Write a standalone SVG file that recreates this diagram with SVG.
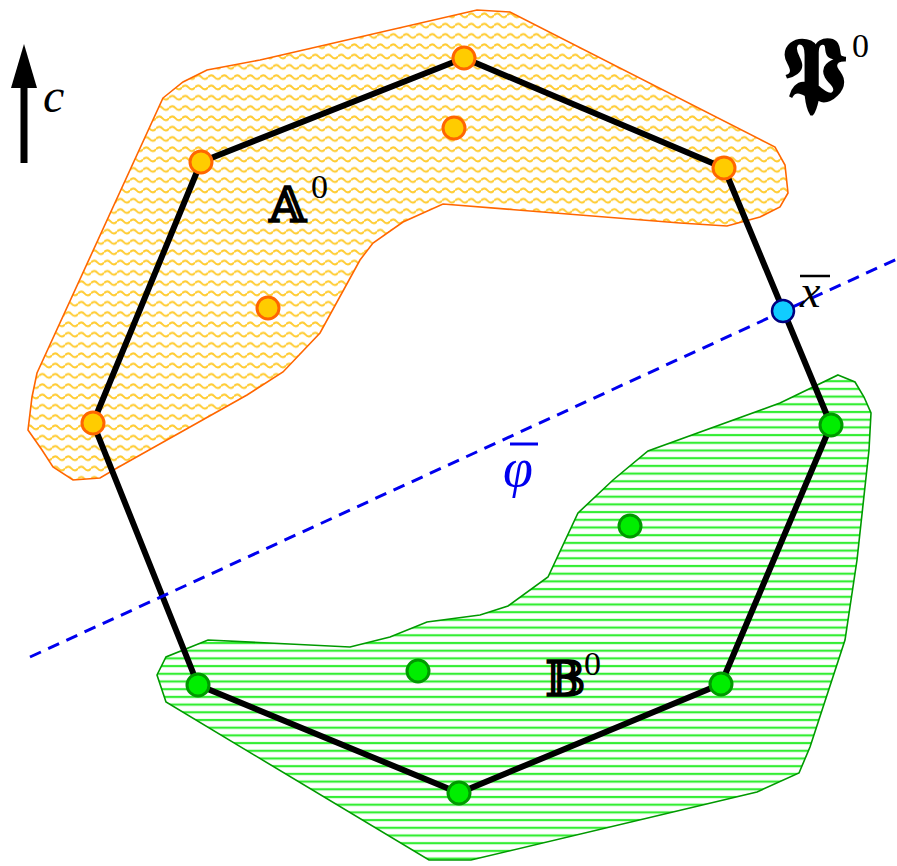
<svg xmlns="http://www.w3.org/2000/svg" width="897" height="866" viewBox="0 0 897 866">
<style>
.edge{fill:none;stroke:#000;stroke-width:6;stroke-linejoin:round}
.pa{fill:#ffcc00;stroke:#ff6600;stroke-width:3}
.pb{fill:#00ee00;stroke:#009900;stroke-width:3}
.px{fill:#11ccff;stroke:#000080;stroke-width:2.5}
.lab{font-family:"DejaVu Serif","Liberation Serif",serif;fill:#000}
.sup{font-family:"Liberation Serif",serif;fill:#000}
.it{font-family:"Liberation Serif",serif;font-style:italic}
</style>
<defs>
<pattern id="wave" patternUnits="userSpaceOnUse" width="13" height="10.3">
<rect width="13" height="10.3" fill="#fff"/>
<path d="M0 5 Q3.25 1.2 6.5 5 T13 5" fill="none" stroke="#ffcc33" stroke-width="2"/>
</pattern>
<pattern id="hlines" patternUnits="userSpaceOnUse" width="10" height="7.7">
<rect width="10" height="7.7" fill="#fff"/>
<rect y="2.8" width="10" height="2.2" fill="#33ee33"/>
</pattern>
</defs>
<g id="regionA">
<path d="M163 98 L183 82 L207 70 L260 60 L477 10 L510 12 L775 147 L785 165 L788 193 L780 207 L760 217 L727 226 L680 223 L443 204 L403 222 L373 243 L360 260 L320 333 L283 372 L247 395 L117 468 L100 478 L73 480 L53 467 L42 450 L28 430 L32 397 L37 373 Z" fill="url(#wave)" stroke="#ff6600" stroke-width="1.6"/>
</g>
<g id="regionB">
<path d="M838 375 L855 382 L864 397 L871 413 L869 450 L857 560 L845 640 L810 747 L799 773 L757 792 L471 860 L429 860 L166 702 L157 675 L166 657 L208 640 L350 647 L390 637 L427 622 L480 615 L508 606 L548 577 L578 513 L613 480 L648 451 L780 403 Z" fill="url(#hlines)" stroke="#009900" stroke-width="1.6"/>
</g>
<g id="connectors">
<polygon class="edge" points="464,58 724,168 831,425 721,684 459,793 198,685 93,423 201,162"/>
<line x1="30" y1="657" x2="897" y2="259" stroke="#0000ee" stroke-width="3" stroke-dasharray="12 8"/>
<line x1="24" y1="163" x2="24" y2="87" stroke="#000" stroke-width="7"/>
<path d="M11 88 L24 44 L37 88 Z" fill="#000"/>
</g>
<g id="pointsA">
<circle class="pa" cx="464" cy="58" r="11"/>
<circle class="pa" cx="724" cy="168" r="11"/>
<circle class="pa" cx="201" cy="162" r="11"/>
<circle class="pa" cx="93" cy="423" r="11"/>
<circle class="pa" cx="454" cy="128" r="11"/>
<circle class="pa" cx="268" cy="308" r="11"/>
</g>
<g id="pointsB">
<circle class="pb" cx="831" cy="425" r="11"/>
<circle class="pb" cx="721" cy="684" r="11"/>
<circle class="pb" cx="459" cy="793" r="11"/>
<circle class="pb" cx="198" cy="685" r="11"/>
<circle class="pb" cx="630" cy="526" r="11"/>
<circle class="pb" cx="418" cy="671" r="11"/>
</g>
<g id="xbar">
<circle class="px" cx="783" cy="311" r="11"/>
<text class="it" x="800" y="307" font-size="46">x</text>
<line x1="800" y1="276" x2="830" y2="276" stroke="#000" stroke-width="2.5"/>
</g>
<g id="labels">
<text class="it" x="43" y="112" font-size="48">c</text>
<text class="lab" x="269" y="222" font-size="48" font-weight="bold">𝔸</text>
<text class="sup" x="311" y="198" font-size="34">0</text>
<text class="lab" x="545" y="696" font-size="48" font-weight="bold">𝔹</text>
<text class="sup" x="584" y="675" font-size="34">0</text>
<text class="lab" x="782" y="100" font-size="88" font-weight="bold">𝕻</text>
<text class="sup" x="852" y="57" font-size="34">0</text>
<text class="it" x="503" y="486" font-size="54" fill="#0000ee">φ</text>
<line x1="510" y1="444" x2="538" y2="444" stroke="#0000ee" stroke-width="3"/>
</g>
</svg>
